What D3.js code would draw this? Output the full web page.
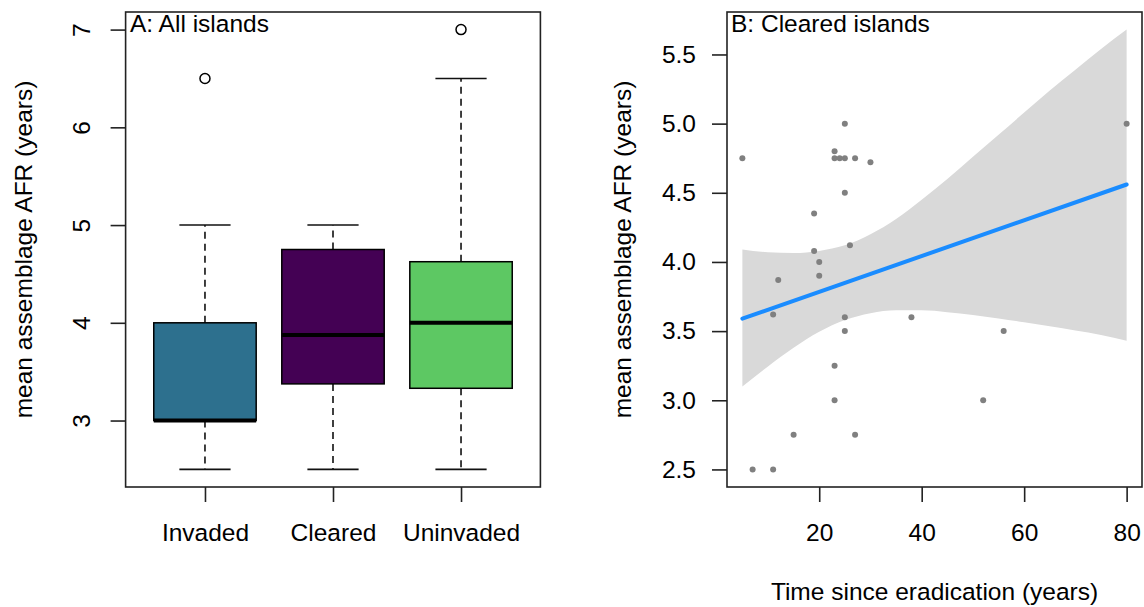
<!DOCTYPE html>
<html>
<head>
<meta charset="utf-8">
<script src="https://cdn.jsdelivr.net/npm/d3@7"></script>
<style>
  body { margin: 0; background: #fff; }
  svg text { font-family: 'Liberation Sans', Arial, Helvetica, sans-serif; fill: #000; }
</style>
</head>
<body>
<div id="diagram"></div>
<script>
// Panel A data: boxplot of mean assemblage AFR per island group
var groups = ['Invaded', 'Cleared', 'Uninvaded'];
var whiskerLow = [2.5, 2.5, 2.5];
var q1 = [3, 3.375, 3.33];
var medians = [3, 3.875, 4];
var q3 = [4, 4.75, 4.625];
var whiskerHigh = [5, 5, 6.5];
var outliers = [[6.5], [], [7]];
var yTicksA = [3, 4, 5, 6, 7];

// Panel B data: cleared islands, time since eradication vs AFR
var eradYears = [5, 25, 23, 23, 24, 25, 27, 30, 25, 19, 26, 19, 20, 20, 12, 80,
  11, 25, 25, 38, 56, 23, 23, 52, 15, 27, 7, 11];
var afr = [4.75, 5.0, 4.8, 4.75, 4.75, 4.75, 4.75, 4.72, 4.5, 4.35, 4.12, 4.08, 4.0, 3.9, 3.87, 5.0,
  3.62, 3.6, 3.5, 3.6, 3.5, 3.25, 3.0, 3.0, 2.75, 2.75, 2.5, 2.5];
var fitX = [5, 80];
var fitY = [3.59, 4.56];
var bandX = [5, 10, 15, 20, 25, 30, 35, 40, 45, 50, 55, 60, 65, 70, 75, 80];
var bandUpper = [4.09, 4.07, 4.065, 4.08, 4.12, 4.2, 4.31, 4.45, 4.6, 4.76, 4.92, 5.08, 5.24, 5.39, 5.54, 5.68];
var bandLower = [3.1, 3.245, 3.38, 3.495, 3.58, 3.63, 3.65, 3.65, 3.637, 3.617, 3.592, 3.564, 3.535, 3.504, 3.472, 3.43];
var xTicksB = [20, 40, 60, 80];
var yTicksB = [2.5, 3.0, 3.5, 4.0, 4.5, 5.0, 5.5];

// Styles
var boxColors = ['#2D708E', '#440154', '#5DC863'];
var fontSize = 24.5;

var w = 1144;
var h = 607;
var plotTop = 12;
var plotBottom = 487;

var svg = d3
  .select('#diagram')
  .append('svg')
  .attr('width', w)
  .attr('height', h);

// ---------- Panel A ----------
var xA = d3.scaleLinear().domain([0.38, 3.62]).range([125.6, 540.4]);
var yA = d3.scaleLinear().domain([2.32, 7.18]).range([plotBottom, plotTop]);
var unitA = xA(1) - xA(0);

var gA = svg.append('g');

groups.forEach(function (name, i) {
  var cx = xA(i + 1);
  var half = unitA * 0.4;
  var cap = unitA * 0.2;

  // Whiskers (dashed)
  gA.append('line')
    .attr('x1', cx).attr('x2', cx)
    .attr('y1', yA(q3[i])).attr('y2', yA(whiskerHigh[i]))
    .attr('stroke', '#111').attr('stroke-width', 1.6)
    .attr('stroke-dasharray', '7,5');
  gA.append('line')
    .attr('x1', cx).attr('x2', cx)
    .attr('y1', yA(q1[i])).attr('y2', yA(whiskerLow[i]))
    .attr('stroke', '#111').attr('stroke-width', 1.6)
    .attr('stroke-dasharray', '7,5');

  // Whisker caps
  [whiskerLow[i], whiskerHigh[i]].forEach(function (v) {
    gA.append('line')
      .attr('x1', cx - cap).attr('x2', cx + cap)
      .attr('y1', yA(v)).attr('y2', yA(v))
      .attr('stroke', '#111').attr('stroke-width', 1.6);
  });

  // Box
  gA.append('rect')
    .attr('x', cx - half)
    .attr('y', yA(q3[i]))
    .attr('width', half * 2)
    .attr('height', yA(q1[i]) - yA(q3[i]))
    .attr('fill', boxColors[i])
    .attr('stroke', '#000')
    .attr('stroke-width', 1.5);

  // Median
  gA.append('line')
    .attr('x1', cx - half).attr('x2', cx + half)
    .attr('y1', yA(medians[i])).attr('y2', yA(medians[i]))
    .attr('stroke', '#000').attr('stroke-width', 4);

  // Outliers
  gA.selectAll(null)
    .data(outliers[i])
    .enter()
    .append('circle')
    .attr('cx', cx)
    .attr('cy', (d) => yA(d))
    .attr('r', 5)
    .attr('fill', 'none')
    .attr('stroke', '#000')
    .attr('stroke-width', 1.5);
});

// Frame
gA.append('rect')
  .attr('x', xA.range()[0]).attr('y', plotTop)
  .attr('width', xA.range()[1] - xA.range()[0])
  .attr('height', plotBottom - plotTop)
  .attr('fill', 'none').attr('stroke', '#222').attr('stroke-width', 1.6);

// Y axis A (rotated labels)
var yAxisA = d3.axisLeft(yA).tickValues(yTicksA).tickSize(15).tickFormat(d3.format('d'));
gA.append('g')
  .attr('transform', `translate(${xA.range()[0]}, 0)`)
  .call(yAxisA)
  .call((g) => g.select('.domain').remove())
  .call((g) => g.selectAll('line').attr('stroke', '#222').attr('stroke-width', 1.6))
  .call((g) =>
    g.selectAll('text')
      .attr('x', 0).attr('y', 0)
      .attr('font-size', fontSize)
      .attr('font-family', null)
      .attr('text-anchor', 'middle')
      .attr('transform', `translate(${81.4 - xA.range()[0]}, 0) rotate(-90)`)
      .attr('dy', '0.35em')
  );

// X axis A
var xAxisA = d3.axisBottom(xA).tickValues([1, 2, 3]).tickSize(15).tickPadding(0)
  .tickFormat((d) => groups[d - 1]);
gA.append('g')
  .attr('transform', `translate(0, ${plotBottom})`)
  .call(xAxisA)
  .call((g) => g.select('.domain').remove())
  .call((g) => g.selectAll('line').attr('stroke', '#222').attr('stroke-width', 1.6))
  .call((g) =>
    g.selectAll('text')
      .attr('font-size', fontSize)
      .attr('font-family', null)
      .attr('y', 53.5)
      .attr('dy', null)
  );

// Y title A
gA.append('text')
  .attr('transform', `translate(23.2, ${(plotTop + plotBottom) / 2}) rotate(-90)`)
  .attr('text-anchor', 'middle')
  .attr('dy', '0.35em')
  .attr('font-size', fontSize)
  .text('mean assemblage AFR (years)');

// Panel title A
gA.append('text')
  .attr('x', 130).attr('y', 32)
  .attr('font-size', fontSize)
  .text('A: All islands');

// ---------- Panel B ----------
var xB = d3.scaleLinear().domain([2, 83]).range([727, 1142]);
var yB = d3.scaleLinear().domain([2.373, 5.807]).range([plotBottom, plotTop]);

var gB = svg.append('g');

// Confidence band
var bandData = bandX.map((x, i) => [x, bandLower[i], bandUpper[i]]);
var band = d3.area()
  .x((d) => xB(d[0]))
  .y0((d) => yB(d[1]))
  .y1((d) => yB(d[2]))
  .curve(d3.curveMonotoneX);
gB.append('path')
  .datum(bandData)
  .attr('d', band)
  .attr('fill', '#D9D9D9');

// Points
gB.selectAll('circle')
  .data(eradYears.map((x, i) => [x, afr[i]]))
  .enter()
  .append('circle')
  .attr('cx', (d) => xB(d[0]))
  .attr('cy', (d) => yB(d[1]))
  .attr('r', 3)
  .attr('fill', '#808080');

// Fitted line
gB.append('path')
  .datum(fitX.map((x, i) => [x, fitY[i]]))
  .attr('d', d3.line().x((d) => xB(d[0])).y((d) => yB(d[1])))
  .attr('fill', 'none')
  .attr('stroke', '#1A8CFF')
  .attr('stroke-width', 4)
  .attr('stroke-linecap', 'round');

// Frame
gB.append('rect')
  .attr('x', xB.range()[0]).attr('y', plotTop)
  .attr('width', xB.range()[1] - xB.range()[0])
  .attr('height', plotBottom - plotTop)
  .attr('fill', 'none').attr('stroke', '#222').attr('stroke-width', 1.6);

// Y axis B
var yAxisB = d3.axisLeft(yB).tickValues(yTicksB).tickSize(15).tickPadding(16)
  .tickFormat(d3.format('.1f'));
gB.append('g')
  .attr('transform', `translate(${xB.range()[0]}, 0)`)
  .call(yAxisB)
  .call((g) => g.select('.domain').remove())
  .call((g) => g.selectAll('line').attr('stroke', '#222').attr('stroke-width', 1.6))
  .call((g) => g.selectAll('text').attr('font-size', fontSize).attr('font-family', null));

// X axis B
var xAxisB = d3.axisBottom(xB).tickValues(xTicksB).tickSize(15).tickFormat(d3.format('d'));
gB.append('g')
  .attr('transform', `translate(0, ${plotBottom})`)
  .call(xAxisB)
  .call((g) => g.select('.domain').remove())
  .call((g) => g.selectAll('line').attr('stroke', '#222').attr('stroke-width', 1.6))
  .call((g) =>
    g.selectAll('text')
      .attr('font-size', fontSize)
      .attr('font-family', null)
      .attr('y', 53.5)
      .attr('dy', null)
  );

// Titles B
gB.append('text')
  .attr('transform', `translate(622.6, ${(plotTop + plotBottom) / 2}) rotate(-90)`)
  .attr('text-anchor', 'middle')
  .attr('dy', '0.35em')
  .attr('font-size', fontSize)
  .text('mean assemblage AFR (years)');

gB.append('text')
  .attr('x', (xB.range()[0] + xB.range()[1]) / 2)
  .attr('y', 600)
  .attr('text-anchor', 'middle')
  .attr('font-size', fontSize)
  .text('Time since eradication (years)');

gB.append('text')
  .attr('x', 731).attr('y', 32)
  .attr('font-size', fontSize)
  .text('B: Cleared islands');
</script>
</body>
</html>
